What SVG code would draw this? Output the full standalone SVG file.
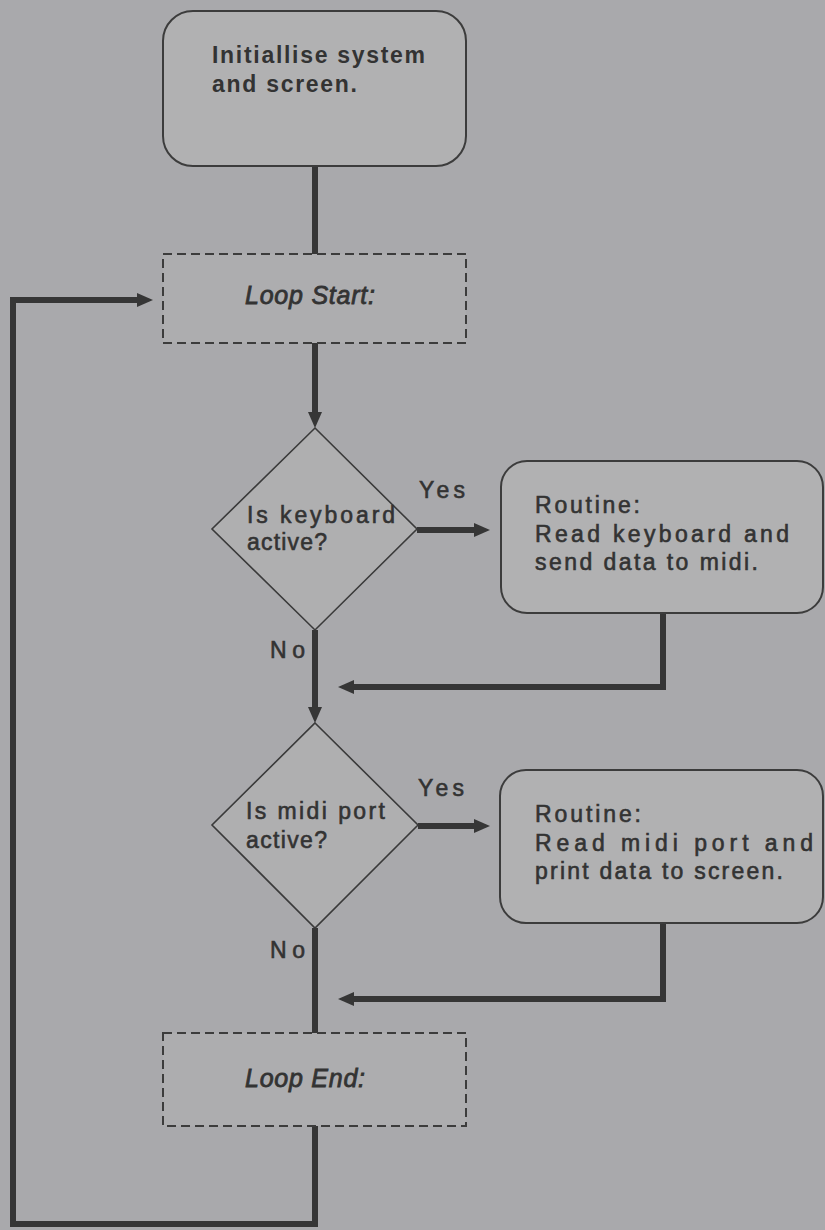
<svg xmlns="http://www.w3.org/2000/svg" width="825" height="1230" viewBox="0 0 825 1230">
<style>
.bg{fill:#a9a9ac}
.box{fill:#b1b1b2;stroke:#3c3c3c;stroke-width:2}
.dash{fill:#adadaf;stroke:#3c3c3c;stroke-width:2;stroke-dasharray:9 5}
.dia{fill:#afafb0;stroke:#3a3a3a;stroke-width:1.6}
.t{font-family:"Liberation Sans",Arial,sans-serif;font-size:23px;fill:#333333}
.b{font-weight:bold}
.m{stroke:#333333;stroke-width:0.6}
.it{font-family:"Liberation Sans",Arial,sans-serif;font-size:25px;font-style:italic;fill:#333333;stroke:#333333;stroke-width:0.8}
.c{fill:none;stroke:#363636;stroke-width:6}
</style>
<defs>
<marker id="ah" markerWidth="16" markerHeight="14" refX="2" refY="7" orient="auto" markerUnits="userSpaceOnUse">
<path d="M0,0 L16,7 L0,14 z" fill="#363636"/>
</marker>
</defs>
<rect class="bg" x="0" y="0" width="825" height="1230"/>

<g id="connectors">
<path class="c" d="M315,166 V254"/>
<path class="c" d="M315,343 V414" marker-end="url(#ah)"/>
<path class="c" d="M417,530 H476" marker-end="url(#ah)"/>
<path class="c" d="M663,613 V687 H352" marker-end="url(#ah)"/>
<path class="c" d="M315,630 V709" marker-end="url(#ah)"/>
<path class="c" d="M418,826 H476" marker-end="url(#ah)"/>
<path class="c" d="M663,923 V999 H352" marker-end="url(#ah)"/>
<path class="c" d="M315,928 V1033"/>
<path class="c" d="M315,1126 V1224 H13 V300 H139" marker-end="url(#ah)"/>
</g>

<g id="init">
<rect class="box" x="163" y="11" width="303" height="155" rx="30" ry="30"/>
<text class="t b" x="212" y="63" font-size="25" textLength="213" lengthAdjust="spacing">Initiallise system</text>
<text class="t b" x="212" y="92" font-size="25" textLength="145" lengthAdjust="spacing">and screen.</text>
</g>

<g id="loopstart">
<rect class="dash" x="163" y="254" width="303" height="89"/>
<text class="it" x="245" y="304" textLength="130" lengthAdjust="spacing">Loop Start:</text>
</g>

<g id="keyboard-decision">
<polygon class="dia" points="315,428 417,529 315,630 212,529"/>
<text class="t m" x="247" y="523" textLength="148" lengthAdjust="spacing">Is keyboard</text>
<text class="t m" x="247" y="550" textLength="80" lengthAdjust="spacing">active?</text>
<text class="t m" x="419" y="498" textLength="46" lengthAdjust="spacing">Yes</text>
<text class="t m" x="270" y="658" textLength="35" lengthAdjust="spacing">No</text>
</g>

<g id="keyboard-routine">
<rect class="box" x="501" y="461" width="322" height="152" rx="26" ry="26"/>
<text class="t m" x="535" y="513" textLength="105" lengthAdjust="spacing">Routine:</text>
<text class="t m" x="535" y="542" textLength="254" lengthAdjust="spacing">Read keyboard and</text>
<text class="t m" x="535" y="570" textLength="223" lengthAdjust="spacing">send data to midi.</text>
</g>

<g id="midi-decision">
<polygon class="dia" points="315,723 418,825 315,928 212,825"/>
<text class="t m" x="246" y="819" textLength="139" lengthAdjust="spacing">Is midi port</text>
<text class="t m" x="246" y="848" textLength="81" lengthAdjust="spacing">active?</text>
<text class="t m" x="418" y="796" textLength="46" lengthAdjust="spacing">Yes</text>
<text class="t m" x="270" y="958" textLength="35" lengthAdjust="spacing">No</text>
</g>

<g id="midi-routine">
<rect class="box" x="500" y="770" width="323" height="153" rx="26" ry="26"/>
<text class="t m" x="535" y="822" textLength="106" lengthAdjust="spacing">Routine:</text>
<text class="t m" x="535" y="851" textLength="278" lengthAdjust="spacing">Read midi port and</text>
<text class="t m" x="535" y="879" textLength="248" lengthAdjust="spacing">print data to screen.</text>
</g>

<g id="loopend">
<rect class="dash" x="163" y="1033" width="303" height="93"/>
<text class="it" x="245" y="1087" textLength="120" lengthAdjust="spacing">Loop End:</text>
</g>
</svg>
